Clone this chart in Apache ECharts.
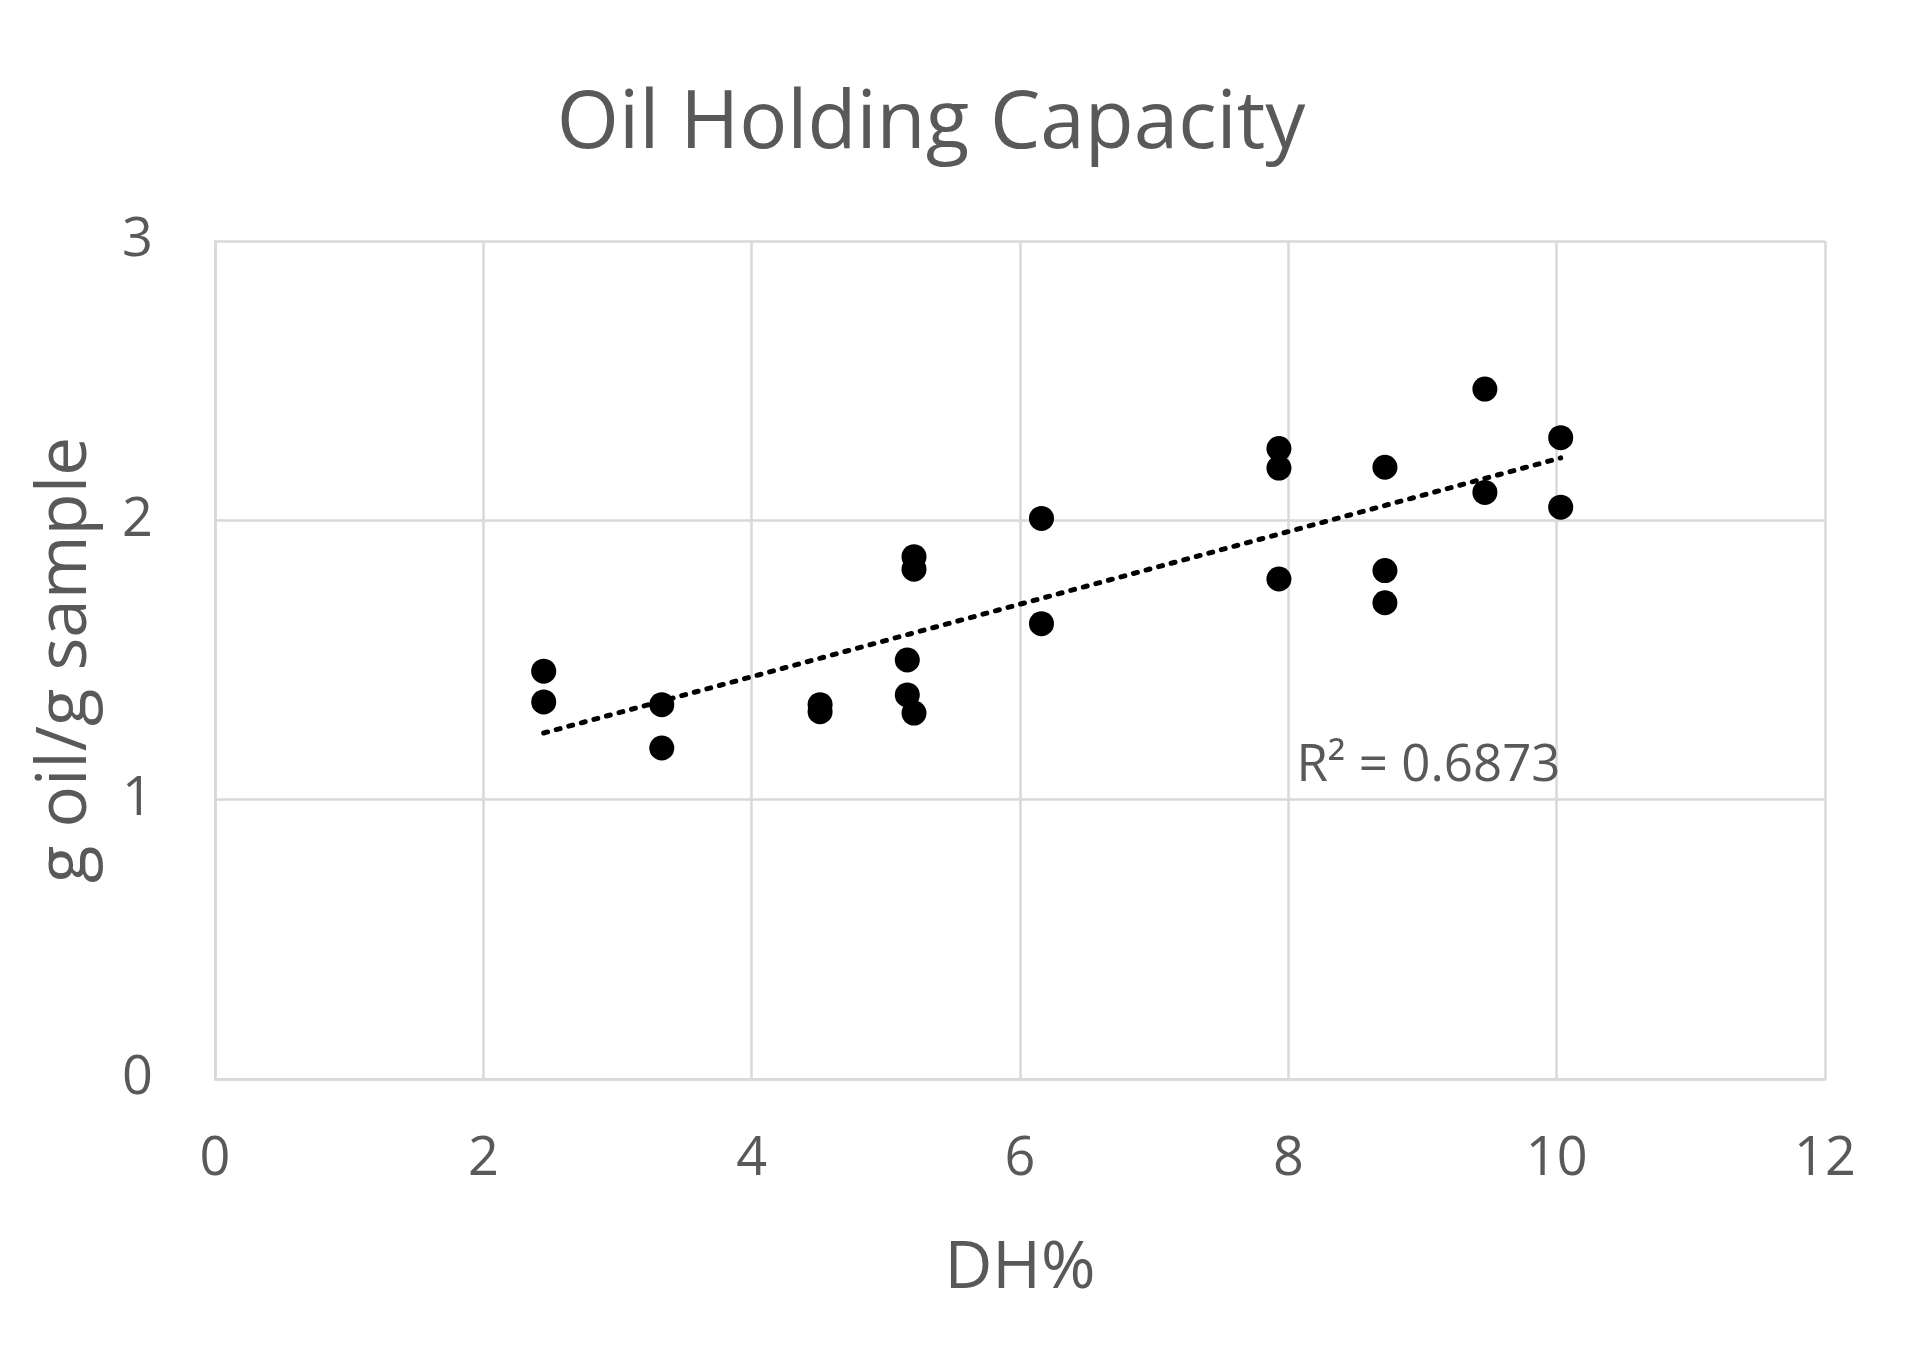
<!DOCTYPE html>
<html><head><meta charset="utf-8">
<script src="https://cdn.jsdelivr.net/npm/echarts@6/dist/echarts.min.js"></script>
<style>html,body{margin:0;padding:0;background:#fff}#c{width:1917px;height:1366px}</style>
</head><body><div id="c"></div>
<script>
const dhValues = [2.45, 2.45, 3.33, 3.33, 4.51, 4.51, 5.16, 5.16, 5.21, 5.21, 5.21, 6.16, 6.16, 7.93, 7.93, 7.93, 8.72, 8.72, 8.72, 9.465, 9.465, 10.03, 10.03];
const ohcValues = [1.46, 1.35, 1.34, 1.185, 1.34, 1.315, 1.50, 1.375, 1.31, 1.87, 1.825, 2.007, 1.63, 2.257, 2.187, 1.79, 2.19, 1.82, 1.705, 2.47, 2.10, 2.296, 2.047];
const r2Label = 'R² = 0.6873';

const pts = dhValues.map((x, i) => [x, ohcValues[i]]);
// least-squares trend line computed from the data
const n = pts.length;
const mx = dhValues.reduce((a, b) => a + b, 0) / n;
const my = ohcValues.reduce((a, b) => a + b, 0) / n;
let sxy = 0, sxx = 0;
pts.forEach(([x, y]) => { sxy += (x - mx) * (y - my); sxx += (x - mx) * (x - mx); });
const slope = sxy / sxx, icpt = my - slope * mx;
const xMin = Math.min(...dhValues), xMax = Math.max(...dhValues);
const trend = [[xMin, icpt + slope * xMin], [xMax, icpt + slope * xMax]];

const txt = '#595959', grid = '#d9d9d9', ff = '"Open Sans", sans-serif';
const chart = echarts.init(document.getElementById('c'));
chart.setOption({
  backgroundColor: '#fff',
  animation: false,
  title: { text: 'Oil Holding Capacity', left: 926, top: 80, textAlign: 'center',
    textStyle: { color: txt, fontSize: 80, fontWeight: 'normal', fontFamily: ff } },
  grid: { left: 215, right: 92, top: 241, bottom: 287 },
  xAxis: { type: 'value', min: 0, max: 12, interval: 2,
    name: 'DH%', nameLocation: 'middle', nameGap: 157,
    nameTextStyle: { color: txt, fontSize: 66, fontFamily: ff },
    axisLine: { show: true, lineStyle: { color: grid, width: 2.5 } },
    axisTick: { show: false },
    axisLabel: { color: txt, fontSize: 54, fontFamily: ff, margin: 54 },
    splitLine: { show: true, lineStyle: { color: grid, width: 2.5 } } },
  yAxis: { type: 'value', min: 0, max: 3, interval: 1,
    name: 'g oil/g sample', nameLocation: 'middle', nameGap: 114,
    nameTextStyle: { color: txt, fontSize: 69, fontFamily: ff },
    axisLine: { show: true, lineStyle: { color: grid, width: 2.5 } },
    axisTick: { show: false },
    axisLabel: { color: txt, fontSize: 54, fontFamily: ff, margin: 62 },
    splitLine: { show: true, lineStyle: { color: grid, width: 2.5 } } },
  series: [
    { type: 'line', data: trend, symbol: 'none', silent: true, z: 3,
      lineStyle: { color: '#000', width: 5, type: [4, 9], cap: 'round' } },
    { type: 'scatter', data: pts, symbol: 'circle', symbolSize: 25, z: 4,
      itemStyle: { color: '#000', opacity: 1 } }
  ]
});
const p = chart.convertToPixel({ gridIndex: 0 }, [8.06, 1.12]);
chart.setOption({ graphic: [{ type: 'text', x: p[0], y: p[1],
  style: { text: r2Label, fill: txt, font: '51px ' + ff, textAlign: 'left', textVerticalAlign: 'middle' } }] });
</script></body></html>
